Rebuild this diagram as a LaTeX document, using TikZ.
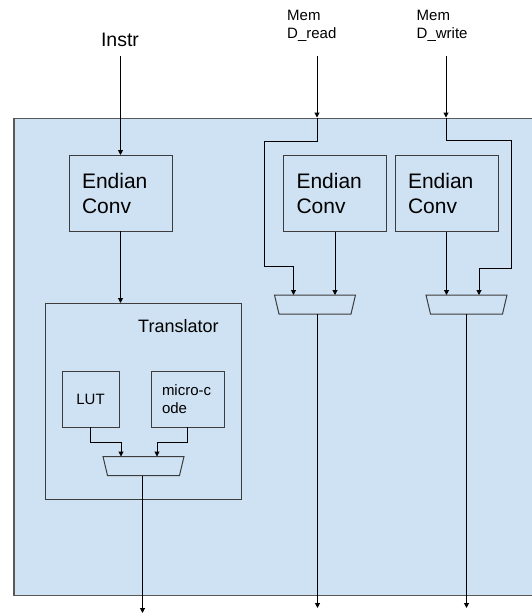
\documentclass[tikz,border=0pt]{standalone}
\usepackage{fontspec}
\setmainfont{Liberation Sans}
\usetikzlibrary{arrows.meta,calc}
\definecolor{panelblue}{HTML}{CFE2F3}
\definecolor{edgegrey}{HTML}{595959}
\definecolor{boxgrey}{HTML}{3C3C3C}
\tikzset{
  wire/.style={draw=black, line width=1pt},
  arr/.style={wire, -{Triangle[length=5pt,width=5pt]}},
  block/.style={draw=boxgrey, line width=1pt, rectangle, inner sep=0pt, outer sep=0pt},
  endianbox/.style={block, minimum width=103pt, minimum height=76pt,
    text width=77pt, align=left, font=\fontsize{21}{25}\selectfont},
  muxbox/.style={rectangle, inner sep=0pt, outer sep=0pt, minimum width=81pt, minimum height=19pt},
  muxedge/.style={draw=boxgrey, line width=1pt},
  smalltext/.style={font=\fontsize{15}{18}\selectfont, inner sep=0pt, align=left},
}
\begin{document}
\begin{tikzpicture}[x=1pt, y=-1pt]
\useasboundingbox (0,0) rectangle (531,614);

% chip outline
\node[draw=edgegrey, fill=panelblue, line width=1.5pt, rectangle, inner sep=0pt,
      minimum width=527pt, minimum height=477pt, anchor=north west] (chip) at (13,117.5) {};

% external signal labels
\node[font=\fontsize{19.5}{22}\selectfont, inner sep=0pt, anchor=base] (instr) at (120,46.5) {Instr};
\node[smalltext, anchor=base west] (rdlbl) at (287,38) {Mem\\D\_read};
\node[smalltext, anchor=base west] (wrlbl) at (416.5,38) {Mem\\D\_write};

\coordinate (instrsrc) at (120.5,56);
\coordinate (rdsrc) at (317,56);
\coordinate (wrsrc) at (446,56);
\coordinate (rdin) at (317,117.5);
\coordinate (wrin) at (446,117.5);

% endian converters
\node[endianbox] (e1) at (120.5,193) {Endian\\Conv};
\node[endianbox] (e2) at (335,193.5) {Endian\\Conv};
\node[endianbox] (e3) at (446.5,193.5) {Endian\\Conv};

% translator block
\node[block, minimum width=196pt, minimum height=196pt] (tr) at (143,401) {};
\node[font=\fontsize{18}{21}\selectfont, inner sep=0pt, anchor=base west] (trlbl) at (138,332) {Translator};
\node[block, minimum width=57pt, minimum height=56pt, font=\fontsize{15}{18}\selectfont] (lut) at (90.5,399) {LUT};
\node[block, minimum width=73pt, minimum height=56pt, text width=51pt, align=left,
      font=\fontsize{15}{18}\selectfont] (mc) at (187.5,399) {micro-c\\ode};

% multiplexers
\node[muxbox] (m1) at (143.5,466) {};
\node[muxbox] (m2) at (315,304.5) {};
\node[muxbox] (m3) at (466.5,304.5) {};
\foreach \m in {m1,m2,m3}{
  \draw[muxedge] (\m.north west) -- (\m.north east) -- ([xshift=-4.5pt]\m.south east)
    -- ([xshift=4.5pt]\m.south west) -- cycle;
}

% output ends
\coordinate (o1) at (142.5,613);
\coordinate (o2) at (317.5,608);
\coordinate (o3) at (466.5,608);

% instruction path
\draw[arr] (instrsrc) -- (e1.north);
\draw[arr] (e1.south) -- (e1.south |- tr.north);
\draw[arr] (lut.south) -- ++(0,15) -| ([xshift=18pt]m1.north west);
\draw[arr] (mc.south) -- ++(0,15) -| ([xshift=-27pt]m1.north east);
\draw[arr] (m1.south -| o1) -- (o1);

% data read path
\draw[arr] (rdsrc) -- (rdin);
\draw[arr] (rdin) -- (317,141) -| (264,266) -| ([xshift=19pt]m2.north west);
\draw[arr] (e2.south) -- (e2.south |- m2.north);
\draw[arr] (m2.south -| o2) -- (o2);

% data write path
\draw[arr] (wrsrc) -- (wrin);
\draw[arr] (wrin) -- (446,140) -| (511,268) -| ([xshift=-28pt]m3.north east);
\draw[arr] (e3.south) -- (e3.south |- m3.north);
\draw[arr] (m3.south -| o3) -- (o3);
\end{tikzpicture}
\end{document}
